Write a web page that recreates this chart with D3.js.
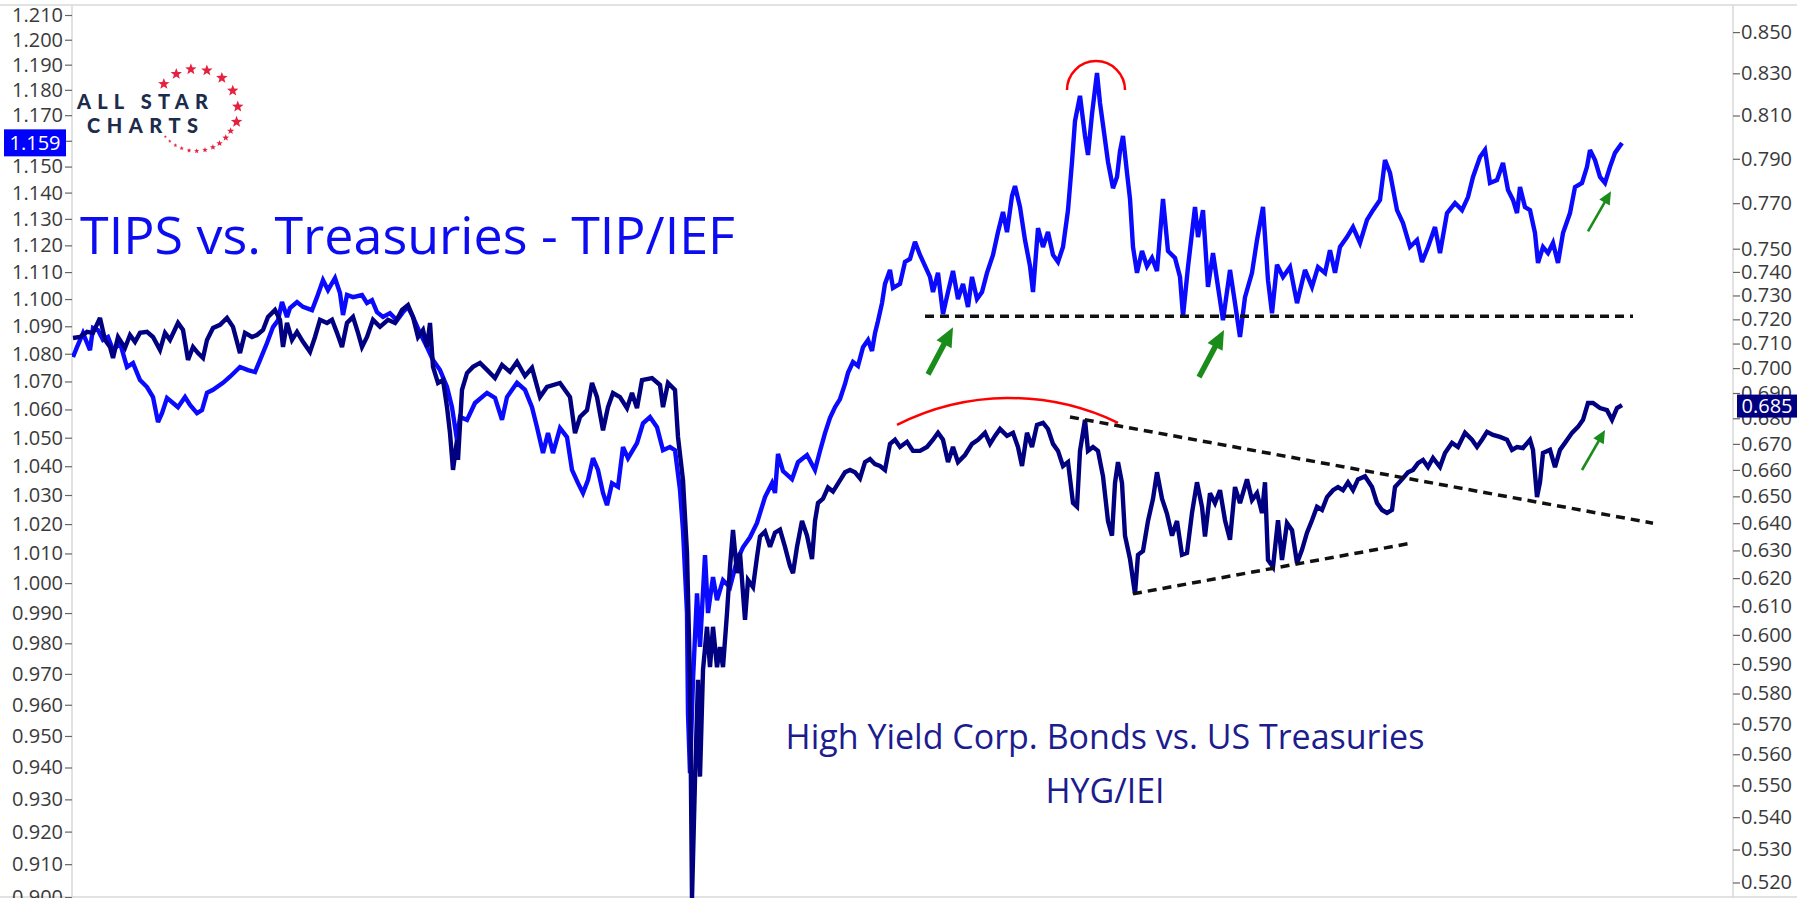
<!DOCTYPE html>
<html><head><meta charset="utf-8">
<script src="https://cdn.jsdelivr.net/npm/d3@7"></script>
<style>html,body{margin:0;padding:0;background:#fff;overflow:hidden}</style>
</head><body><svg id="c" width="1797" height="898"></svg>
<script>
// ---- DATA ----
// TIP/IEF ratio (left log axis), by bar index
const tipBars=[0,4,10,17,20,25,30,35,40,47,54,60,67,74,80,85,89,94,100,105,112,117,124,129,134,140,150,157,167,175,182,187,194,200,205,209,214,217,224,230,239,244,250,255,262,267,270,274,280,289,294,299,304,310,317,324,330,335,340,347,354,360,367,374,379,384,387,394,402,414,422,429,434,444,452,459,464,470,475,480,487,494,499,505,510,515,520,525,530,534,539,545,550,555,564,570,577,584,590,597,602,607,610,614,615,617,620,624,627,632,635,640,644,650,657,664,670,677,684,692,699,702,705,710,719,725,734,742,747,752,757,762,767,772,775,780,785,790,795,799,802,805,809,812,817,820,827,832,837,842,847,852,857,860,865,870,875,880,885,890,895,899,904,909,914,920,925,930,934,939,942,947,952,957,960,965,970,975,980,985,990,995,999,1002,1007,1012,1015,1019,1024,1027,1030,1035,1040,1044,1047,1050,1054,1057,1060,1064,1069,1074,1079,1084,1090,1095,1102,1107,1110,1115,1122,1125,1130,1135,1140,1145,1150,1157,1162,1167,1172,1179,1184,1190,1195,1199,1204,1210,1217,1224,1232,1239,1245,1252,1257,1262,1267,1274,1280,1287,1294,1300,1307,1312,1317,1324,1330,1337,1344,1349,1355,1362,1367,1374,1382,1389,1395,1400,1407,1412,1417,1424,1430,1435,1440,1444,1447,1452,1457,1462,1465,1470,1475,1480,1485,1490,1497,1502,1509,1514,1517,1522,1527,1532,1537,1542,1549];
const tipValues=[1.0788,1.0824,1.0875,1.0813,1.0894,1.0886,1.0850,1.0861,1.0813,1.0839,1.0752,1.0766,1.0705,1.0680,1.0644,1.0555,1.0587,1.0641,1.0623,1.0608,1.0644,1.0616,1.0587,1.0598,1.0659,1.0670,1.0695,1.0717,1.0752,1.0741,1.0734,1.0777,1.0839,1.0897,1.0922,1.0989,1.0934,1.0967,1.0989,1.0971,1.0959,1.1007,1.1070,1.1033,1.1078,1.1022,1.0941,1.1015,1.1007,1.1015,1.0985,1.0996,1.0952,1.0934,1.0948,1.0922,1.0952,1.0971,1.0934,1.0875,1.0824,1.0777,1.0741,1.0680,1.0608,1.0492,1.0573,1.0563,1.0623,1.0659,1.0641,1.0563,1.0644,1.0695,1.0670,1.0608,1.0537,1.0446,1.0516,1.0446,1.0534,1.0502,1.0387,1.0341,1.0307,1.0352,1.0428,1.0387,1.0307,1.0265,1.0341,1.0328,1.0467,1.0428,1.0481,1.0551,1.0573,1.0537,1.0456,1.0467,1.0456,1.0317,1.0179,0.9900,0.9573,0.9382,0.9680,0.9966,0.9788,1.0094,0.9900,1.0020,0.9943,1.0010,0.9986,1.0077,1.0121,1.0155,1.0204,1.0293,1.0341,1.0307,1.0443,1.0383,1.0355,1.0414,1.0439,1.0387,1.0453,1.0516,1.0570,1.0608,1.0637,1.0691,1.0731,1.0770,1.0756,1.0824,1.0850,1.0810,1.0875,1.0919,1.0985,1.1056,1.1108,1.1041,1.1056,1.1138,1.1149,1.1213,1.1164,1.1123,1.1082,1.1026,1.1097,1.0945,1.1026,1.1104,1.1000,1.1056,1.0971,1.1082,1.1000,1.1026,1.1097,1.1164,1.1250,1.1326,1.1250,1.1387,1.1425,1.1345,1.1220,1.1122,1.1026,1.1265,1.1194,1.1250,1.1164,1.1138,1.1194,1.1333,1.1518,1.1677,1.1776,1.1619,1.1545,1.1705,1.1867,1.1748,1.1662,1.1518,1.1417,1.1460,1.1560,1.1619,1.1476,1.1376,1.1194,1.1097,1.1179,1.1122,1.1153,1.1104,1.1376,1.1179,1.1153,1.1082,1.0937,1.1119,1.1345,1.1231,1.1333,1.1045,1.1171,1.1045,1.0922,1.1108,1.0985,1.0861,1.1007,1.1097,1.1220,1.1345,1.1070,1.0948,1.1127,1.1082,1.1119,1.0985,1.1108,1.1045,1.1119,1.1097,1.1182,1.1097,1.1194,1.1231,1.1269,1.1209,1.1296,1.1333,1.1372,1.1525,1.1476,1.1333,1.1284,1.1194,1.1220,1.1138,1.1194,1.1269,1.1171,1.1322,1.1360,1.1333,1.1383,1.1460,1.1537,1.1564,1.1437,1.1448,1.1514,1.1410,1.1372,1.1322,1.1421,1.1345,1.1333,1.1246,1.1134,1.1194,1.1171,1.1209,1.1134,1.1246,1.1322,1.1421,1.1437,1.1499,1.1564,1.1525,1.1460,1.1437,1.1499,1.1553,1.1591];
// HYG/IEI ratio (right log axis), by bar index
const hygBars=[0,7,14,20,27,32,37,40,45,52,57,62,67,74,80,87,92,97,105,110,115,120,125,130,134,140,147,154,160,167,172,179,184,190,195,202,207,210,214,219,224,230,237,242,247,254,259,264,269,274,280,285,289,294,300,307,315,322,329,335,340,345,350,354,357,360,365,370,374,377,380,384,385,389,394,400,407,414,422,429,437,444,452,459,467,474,487,497,502,507,514,519,524,530,535,540,547,554,559,564,569,579,587,590,595,602,605,610,614,617,619,622,625,627,630,634,637,640,644,647,650,654,657,660,664,667,672,675,680,684,687,692,697,702,707,712,717,720,724,729,734,739,742,745,750,755,760,767,772,777,782,787,792,797,802,807,812,817,822,827,834,840,847,854,860,865,870,875,880,885,892,899,905,912,917,922,927,934,940,945,949,954,959,964,970,975,980,985,990,995,1000,1004,1007,1012,1015,1020,1025,1030,1035,1039,1042,1045,1049,1052,1057,1062,1065,1070,1075,1080,1084,1089,1094,1099,1104,1109,1114,1119,1124,1129,1132,1137,1142,1147,1152,1157,1162,1167,1174,1179,1184,1189,1192,1195,1200,1205,1209,1214,1219,1224,1229,1234,1239,1244,1249,1254,1260,1265,1270,1275,1280,1285,1292,1299,1304,1309,1314,1319,1322,1329,1335,1340,1345,1350,1355,1360,1367,1372,1379,1385,1392,1399,1404,1409,1414,1420,1427,1434,1439,1444,1450,1457,1460,1464,1467,1470,1477,1482,1487,1492,1499,1505,1510,1515,1520,1527,1534,1539,1544,1549];
const hygValues=[0.7123,0.7127,0.7148,0.7144,0.7206,0.7115,0.7086,0.7041,0.7127,0.7082,0.7135,0.7107,0.7144,0.7148,0.7127,0.7074,0.7144,0.7115,0.7185,0.7156,0.7033,0.7086,0.7061,0.7041,0.7115,0.7164,0.7177,0.7206,0.7169,0.7061,0.7144,0.7127,0.7135,0.7156,0.7210,0.7239,0.7198,0.7086,0.7185,0.7115,0.7148,0.7107,0.7066,0.7127,0.7198,0.7185,0.7198,0.7144,0.7086,0.7185,0.7210,0.7144,0.7086,0.7127,0.7198,0.7169,0.7198,0.7185,0.7239,0.7260,0.7210,0.7127,0.7156,0.7086,0.7185,0.7005,0.6940,0.6952,0.6844,0.6742,0.6600,0.6715,0.6638,0.6912,0.6980,0.7005,0.7021,0.6993,0.6960,0.7013,0.6985,0.7025,0.6968,0.7001,0.6884,0.6924,0.6940,0.6884,0.6742,0.6805,0.6832,0.6940,0.6884,0.6753,0.6844,0.6900,0.6884,0.6840,0.6900,0.6840,0.6952,0.6960,0.6932,0.6844,0.6940,0.6912,0.6727,0.6561,0.6291,0.5846,0.5154,0.5518,0.5846,0.5528,0.5880,0.6028,0.5889,0.6028,0.5889,0.5958,0.5889,0.6076,0.6240,0.6375,0.6218,0.6291,0.6052,0.6193,0.6168,0.6276,0.6351,0.6369,0.6313,0.6365,0.6376,0.6313,0.6243,0.6218,0.6313,0.6408,0.6354,0.6269,0.6408,0.6475,0.6491,0.6533,0.6518,0.6560,0.6591,0.6600,0.6591,0.6568,0.6630,0.6642,0.6622,0.6615,0.6600,0.6700,0.6716,0.6688,0.6708,0.6673,0.6673,0.6688,0.6716,0.6743,0.6716,0.6630,0.6688,0.6630,0.6657,0.6700,0.6716,0.6743,0.6700,0.6731,0.6758,0.6731,0.6743,0.6688,0.6615,0.6743,0.6688,0.6774,0.6782,0.6758,0.6700,0.6673,0.6615,0.6630,0.6475,0.6461,0.6673,0.6794,0.6673,0.6688,0.6673,0.6576,0.6408,0.6354,0.6550,0.6630,0.6550,0.6354,0.6269,0.6144,0.6284,0.6298,0.6408,0.6491,0.6591,0.6491,0.6435,0.6354,0.6408,0.6284,0.6291,0.6438,0.6553,0.6461,0.6351,0.6512,0.6475,0.6523,0.6411,0.6339,0.6535,0.6475,0.6564,0.6486,0.6512,0.6438,0.6553,0.6265,0.6240,0.6411,0.6265,0.6400,0.6374,0.6254,0.6302,0.6365,0.6411,0.6461,0.6449,0.6497,0.6523,0.6535,0.6523,0.6553,0.6523,0.6564,0.6576,0.6535,0.6475,0.6449,0.6438,0.6449,0.6535,0.6564,0.6591,0.6600,0.6626,0.6638,0.6611,0.6646,0.6611,0.6665,0.6704,0.6688,0.6743,0.6716,0.6688,0.6716,0.6747,0.6735,0.6727,0.6716,0.6677,0.6688,0.6684,0.6716,0.6677,0.6497,0.6553,0.6665,0.6677,0.6611,0.6677,0.6704,0.6743,0.6766,0.6794,0.6860,0.6860,0.6840,0.6832,0.6794,0.6840,0.6852];
const leftTicks=["1.210","1.200","1.190","1.180","1.170","1.160","1.150","1.140","1.130","1.120","1.110","1.100","1.090","1.080","1.070","1.060","1.050","1.040","1.030","1.020","1.010","1.000","0.990","0.980","0.970","0.960","0.950","0.940","0.930","0.920","0.910","0.900"];
const rightTicks=["0.850","0.830","0.810","0.790","0.770","0.750","0.740","0.730","0.720","0.710","0.700","0.690","0.680","0.670","0.660","0.650","0.640","0.630","0.620","0.610","0.600","0.590","0.580","0.570","0.560","0.550","0.540","0.530","0.520"];
const lastTip="1.159", lastHyg="0.685";
// annotations in data coordinates
const tipSupport={bars:[852,1560],values:[1.0937,1.0937]};
const hygDown={bars:[997,1580],values:[0.6805,0.6400]};
const hygUp={bars:[1060,1339],values:[0.6144,0.6327]};
const peakArc={bars:[994,1052],value:1.1799};
const hygArc={bars:[824,1045],values:[0.6774,0.6782],top:0.6880};
const arrowsTip=[{bar:880,value:1.0896,big:true},{bar:1151,value:1.0886,big:true},{bar:1538,value:1.1405,big:false}];
const arrowsHyg=[{bar:1532,value:0.6754,big:false}];

// ---- CHART ----
const svg=d3.select("#c");
const W=1797,H=898, L=72, R=1733, T=5, B=898;
const FONT="'Open Sans', 'Noto Sans', sans-serif";
svg.append("rect").attr("width",W).attr("height",H).attr("fill","#fff");

const x=d3.scaleLinear().domain([0,1549]).range([73,1622]);
const yL=d3.scaleLog().domain([0.90,1.21]).range([897.1,15]);
const yR=d3.scaleLog().domain([0.52,0.85]).range([882.5,32.1]);

// frame
svg.append("line").attr("x1",0).attr("x2",W).attr("y1",T).attr("y2",T).attr("stroke","#d8d8d8").attr("stroke-width",1.5);
svg.append("line").attr("x1",L).attr("x2",L).attr("y1",T).attr("y2",B).attr("stroke","#d8d8d8").attr("stroke-width",1.5);
svg.append("line").attr("x1",R).attr("x2",R).attr("y1",T).attr("y2",B).attr("stroke","#d8d8d8").attr("stroke-width",1.5);
svg.append("line").attr("x1",0).attr("x2",W).attr("y1",B-1).attr("y2",B-1).attr("stroke","#d8d8d8").attr("stroke-width",1.5);

const axL=svg.append("g").attr("transform",`translate(${L},0)`)
  .call(d3.axisLeft(yL).tickValues(leftTicks.map(Number)).tickFormat((d,i)=>leftTicks[i]).tickSize(7).tickPadding(2));
const axR=svg.append("g").attr("transform",`translate(${R},0)`)
  .call(d3.axisRight(yR).tickValues(rightTicks.map(Number)).tickFormat((d,i)=>rightTicks[i]).tickSize(7).tickPadding(1));
[axL,axR].forEach(a=>{
  a.select(".domain").remove();
  a.selectAll(".tick line").attr("stroke","#666").attr("stroke-width",1.2);
  a.selectAll(".tick text").attr("fill","#3a3a3a").style("font-family",FONT).style("font-size","20px");
});

// title texts
svg.append("text").attr("x",80).attr("y",254).text("TIPS vs. Treasuries - TIP/IEF")
  .attr("fill","#0c0cf0").style("font-family",FONT).style("font-size","52px");
svg.append("text").attr("x",1105).attr("y",749).attr("text-anchor","middle").text("High Yield Corp. Bonds vs. US Treasuries")
  .attr("fill","#1c1c8e").style("font-family",FONT).style("font-size","34px");
svg.append("text").attr("x",1105).attr("y",803).attr("text-anchor","middle").text("HYG/IEI")
  .attr("fill","#1c1c8e").style("font-family",FONT).style("font-size","34px");

// logo
const logo=svg.append("g");
logo.append("text").attr("x",77).attr("y",109).text("ALL STAR").attr("textLength",131).attr("lengthAdjust","spacing")
  .attr("fill","#1b2c4c").style("font-family","Lato, 'Open Sans', sans-serif").style("font-weight","900").style("font-size","20px");
logo.append("text").attr("x",87).attr("y",133).text("CHARTS").attr("textLength",111).attr("lengthAdjust","spacing")
  .attr("fill","#1b2c4c").style("font-family","Lato, 'Open Sans', sans-serif").style("font-weight","900").style("font-size","20px");
function starPath(r){let p=[];for(let i=0;i<10;i++){const a=-Math.PI/2+i*Math.PI/5;const rr=i%2?r*0.42:r;p.push([rr*Math.cos(a),rr*Math.sin(a)]);}return "M"+p.join("L")+"Z";}
const cx=196,cy=111;
const starAngles=[-140,-118,-97,-75,-52,-29,-6,15,30,42,54,65,77,89,100,111,121,131,140];
starAngles.forEach((a,i)=>{
  const rad=a*Math.PI/180, rr=i<8?42:40;
  const size=i<8?6:Math.max(1.6,3.8-(i-8)*0.22);
  logo.append("path").attr("d",starPath(size)).attr("transform",`translate(${cx+rr*Math.cos(rad)},${cy+rr*Math.sin(rad)})`).attr("fill","#e4223f");
});

// lines
svg.append("clipPath").attr("id","pc").append("rect").attr("x",L).attr("y",T).attr("width",R-L).attr("height",B-T);
const tipData=tipBars.map((b,i)=>[b,tipValues[i]]);
const hygData=hygBars.map((b,i)=>[b,hygValues[i]]);
const plot=svg.append("g").attr("clip-path","url(#pc)");
plot.append("path").datum(tipData).attr("d",d3.line().x(d=>x(d[0])).y(d=>yL(d[1])))
  .attr("fill","none").attr("stroke","#0a0aff").attr("stroke-width",4.4).attr("stroke-linejoin","miter").attr("stroke-miterlimit",3);
plot.append("path").datum(hygData).attr("d",d3.line().x(d=>x(d[0])).y(d=>yR(d[1])))
  .attr("fill","none").attr("stroke","#000080").attr("stroke-width",4.4).attr("stroke-linejoin","miter").attr("stroke-miterlimit",3);

// dashed trend lines
function dashed(seg,y){
  plot.append("line").attr("x1",x(seg.bars[0])).attr("x2",x(seg.bars[1])).attr("y1",y(seg.values[0])).attr("y2",y(seg.values[1]))
   .attr("stroke","#111").attr("stroke-width",3.5).attr("stroke-dasharray","9,6");
}
dashed(tipSupport,yL); dashed(hygDown,yR); dashed(hygUp,yR);

// red arcs
{
  const x1=x(peakArc.bars[0]),x2=x(peakArc.bars[1]),yy=yL(peakArc.value),r=(x2-x1)/2;
  plot.append("path").attr("d",`M${x1},${yy} A${r},${r} 0 0 1 ${x2},${yy}`).attr("fill","none").attr("stroke","#ff0000").attr("stroke-width",2.5);
}
{
  const x1=x(hygArc.bars[0]),x2=x(hygArc.bars[1]),y1=yR(hygArc.values[0]),y2=yR(hygArc.values[1]);
  const sag=(y1+y2)/2-yR(hygArc.top), c=Math.hypot(x2-x1,y2-y1);
  const r=(c*c/4+sag*sag)/(2*sag);
  plot.append("path").attr("d",`M${x1},${y1} A${r},${r} 0 0 1 ${x2},${y2}`).attr("fill","none").attr("stroke","#ff0000").attr("stroke-width",2.5);
}

// green arrows
function arrow(tx,ty,big){
  const dx=big?-25:-23, dy=big?47:40;
  const sx=tx+dx, sy=ty+dy, len=Math.hypot(dx,dy), ux=-dx/len, uy=-dy/len;
  const h=big?19:13, w=big?8.5:6, sw=big?5.5:2.6;
  const bx=tx-ux*h, by=ty-uy*h, nx=-uy, ny=ux;
  plot.append("line").attr("x1",sx).attr("y1",sy).attr("x2",bx+ux*2).attr("y2",by+uy*2).attr("stroke","#1a8c1a").attr("stroke-width",sw);
  plot.append("path").attr("d",`M${tx},${ty}L${bx+nx*w},${by+ny*w}L${bx-nx*w},${by-ny*w}Z`).attr("fill","#1a8c1a");
}
arrowsTip.forEach(a=>arrow(x(a.bar),yL(a.value),a.big));
arrowsHyg.forEach(a=>arrow(x(a.bar),yR(a.value),a.big));

// last value markers
const lt=yL(+lastTip);
svg.append("rect").attr("x",4).attr("y",lt-14).attr("width",62).attr("height",27).attr("fill","#0000ff");
svg.append("text").attr("x",35).attr("y",lt+7).attr("text-anchor","middle").text(lastTip).attr("fill","#fff").style("font-family",FONT).style("font-size","20px");
const lh=yR(+lastHyg);
svg.append("rect").attr("x",1737).attr("y",lh-11).attr("width",60).attr("height",23).attr("fill","#000080");
svg.append("text").attr("x",1767).attr("y",lh+7).attr("text-anchor","middle").text(lastHyg).attr("fill","#fff").style("font-family",FONT).style("font-size","20px");
</script></body></html>
